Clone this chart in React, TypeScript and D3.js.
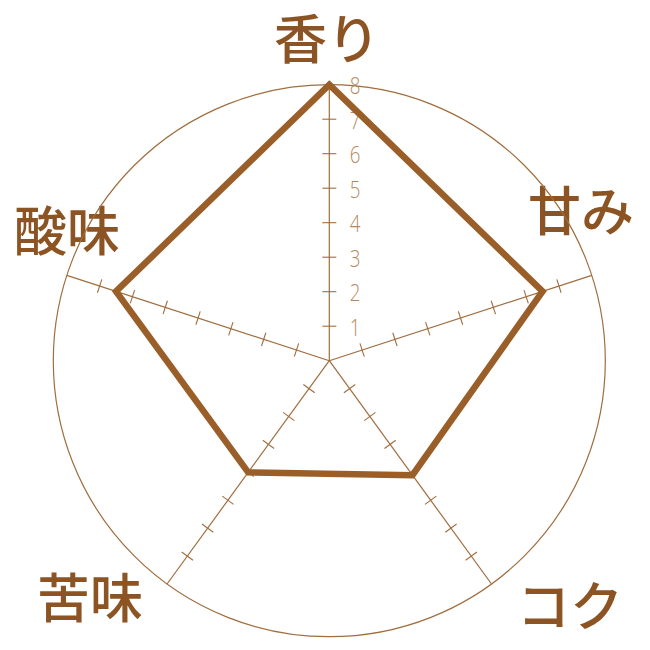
import React from "react";
import * as d3 from "d3";

// ---- data ----
const categories: string[] = ["香り", "甘み", "コク", "苦味", "酸味"];
const values: number[] = [8, 6.5, 4.1, 4, 6.5];
const tickValues: number[] = [1, 2, 3, 4, 5, 6, 7, 8];
const maxValue = 8;

// ---- layout ----
const W = 650;
const H = 650;
const CX = 329.3;
const CY = 360.7;
const R = 276;
// label centres (x, y) in page px for each category
const labelPos: [number, number][] = [
  [327, 36],
  [581, 208],
  [570, 603],
  [90, 595],
  [67, 228],
];

const COL_LABEL = "#8c5323";
const COL_POLY = "#9a5e29";
const COL_AXIS = "#a06d3e";
const COL_TICKTXT = "#b4885c";

export default function App() {
  const r = d3.scaleLinear().domain([0, maxValue]).range([0, R]);
  const angle = (i: number) => (-90 + (360 / categories.length) * i) * (Math.PI / 180);
  const pt = (i: number, v: number): [number, number] => [
    CX + r(v) * Math.cos(angle(i)),
    CY + r(v) * Math.sin(angle(i)),
  ];

  const line = d3
    .line<number>()
    .x((v, i) => pt(i, v)[0])
    .y((v, i) => pt(i, v)[1])
    .curve(d3.curveLinearClosed);

  const tickHalf = 7;
  const TLX = 355;

  return (
    <svg
      width={W}
      height={H}
      style={{ position: "absolute", left: 0, top: 0, background: "#fff" }}
    >
      {/* category labels */}
      {categories.map((c, i) => (
        <text
          key={c}
          x={labelPos[i][0]}
          y={labelPos[i][1]}
          textAnchor="middle"
          dominantBaseline="central"
          fontFamily="'Noto Sans CJK JP', 'Noto Sans CJK SC', sans-serif"
          fontWeight={500}
          fontSize={53}
          fill={COL_LABEL}
        >
          {c}
        </text>
      ))}

      {/* outer circle */}
      <circle cx={CX} cy={CY} r={R} fill="none" stroke={COL_AXIS} strokeWidth={1.2} />

      {/* axes and ticks */}
      {categories.map((c, i) => {
        const [x2, y2] = pt(i, maxValue);
        const a = angle(i);
        const px = -Math.sin(a);
        const py = Math.cos(a);
        return (
          <g key={"ax" + c}>
            <line x1={CX} y1={CY} x2={x2} y2={y2} stroke={COL_AXIS} strokeWidth={1.2} />
            {tickValues
              .filter((t) => t < maxValue)
              .map((t) => {
                const [tx, ty] = pt(i, t);
                return (
                  <line
                    key={t}
                    x1={tx - px * tickHalf}
                    y1={ty - py * tickHalf}
                    x2={tx + px * tickHalf}
                    y2={ty + py * tickHalf}
                    stroke={COL_AXIS}
                    strokeWidth={1.1}
                  />
                );
              })}
          </g>
        );
      })}

      {/* tick labels on vertical axis */}
      {tickValues.map((t) => (
        <text
          key={"tl" + t}
          x={TLX}
          y={pt(0, t)[1]}
          textAnchor="middle"
          dominantBaseline="central"
          fontFamily="'Open Sans', sans-serif"
          fontWeight={300}
          fontSize={24}
          fill={COL_TICKTXT}
          transform={`translate(${TLX} 0) scale(0.78 1) translate(${-TLX} 0)`}
        >
          {t}
        </text>
      ))}

      {/* value polygon */}
      <path
        d={line(values) ?? ""}
        fill="none"
        stroke={COL_POLY}
        strokeWidth={6.5}
        strokeLinejoin="miter"
      />
    </svg>
  );
}
